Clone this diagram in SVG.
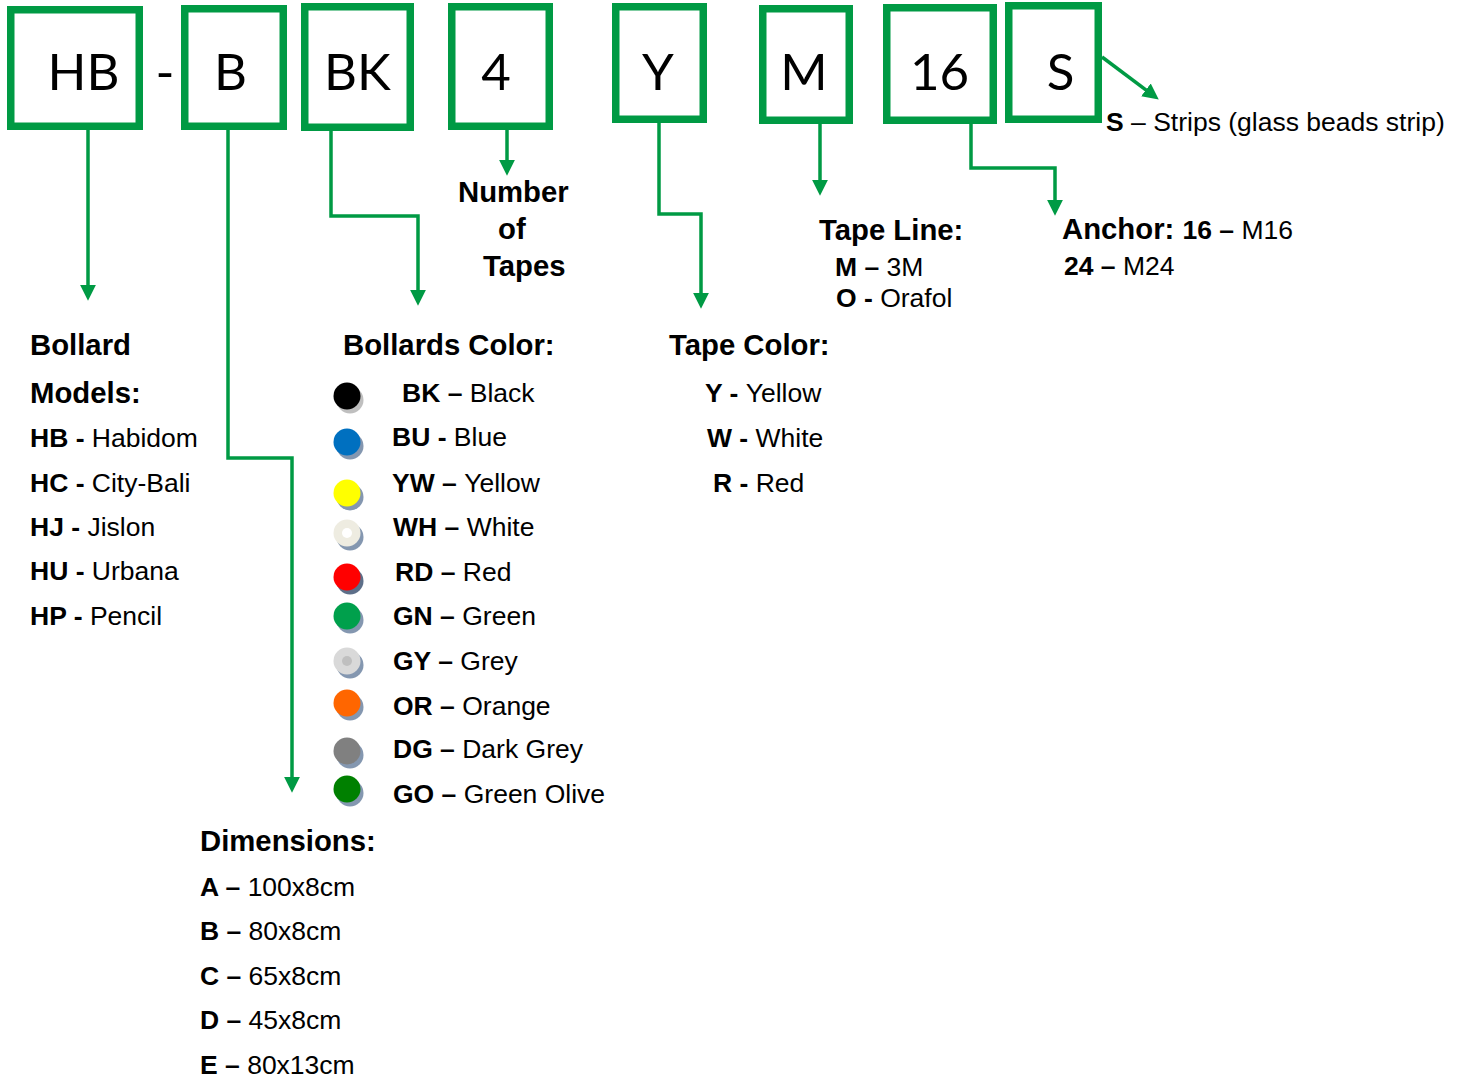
<svg xmlns="http://www.w3.org/2000/svg" width="1463" height="1078" viewBox="0 0 1463 1078">
<style>
.box{fill:#fff;stroke:#009A44;stroke-width:7.5}
.code{font-family:Lato,"Open Sans",sans-serif;font-size:51px;fill:#000;text-anchor:middle}
.con{fill:none;stroke:#009A44;stroke-width:3.5}
.h{font-family:"Liberation Sans",Arial,sans-serif;font-size:29.3px;font-weight:bold;fill:#000}
.t{font-family:"Liberation Sans",Arial,sans-serif;font-size:26.5px;fill:#000}
.b{font-weight:bold}
.sh{fill:#8497B0}
</style>
<defs>
<marker id="arr" markerUnits="userSpaceOnUse" markerWidth="16" markerHeight="16" viewBox="0 0 15 15" refX="3" refY="7.5" orient="auto">
<path d="M0,0 L15,7.5 L0,15 z" fill="#009A44"/>
</marker>
</defs>
<rect width="1463" height="1078" fill="#fff"/>

<g id="connectors">
<path class="con" d="M88,130 V288" marker-end="url(#arr)"/>
<path class="con" d="M228,130 V458 H292 V780" marker-end="url(#arr)"/>
<path class="con" d="M331,131 V216 H418 V293" marker-end="url(#arr)"/>
<path class="con" d="M507,130 V163" marker-end="url(#arr)"/>
<path class="con" d="M659,123 V214 H701 V296" marker-end="url(#arr)"/>
<path class="con" d="M820,124 V183" marker-end="url(#arr)"/>
<path class="con" d="M971,124 V168 H1055 V203" marker-end="url(#arr)"/>
<path class="con" d="M1102,57 L1148.5,91.8" marker-end="url(#arr)"/>
</g>

<g id="node-HB"><rect class="box" x="10.75" y="9.75" width="128.5" height="116.5"/><text class="code" x="83.5" y="90">HB</text></g>
<text id="dash" class="code" x="165" y="90">-</text>
<g id="node-B"><rect class="box" x="184.75" y="8.75" width="98.5" height="117.5"/><text class="code" x="230.5" y="90">B</text></g>
<g id="node-BK"><rect class="box" x="304.75" y="6.75" width="105.5" height="120.5"/><text class="code" x="357.5" y="90">BK</text></g>
<g id="node-4"><rect class="box" x="451.75" y="6.75" width="97.5" height="119.5"/><text class="code" x="496" y="90">4</text></g>
<g id="node-Y"><rect class="box" x="615.75" y="6.75" width="87.5" height="112.5"/><text class="code" x="658" y="90">Y</text></g>
<g id="node-M"><rect class="box" x="762.75" y="8.75" width="86.5" height="111.5"/><text class="code" x="804" y="90">M</text></g>
<g id="node-16"><rect class="box" x="886.75" y="7.75" width="106.5" height="112.5"/><text class="code" x="939.5" y="90">16</text></g>
<g id="node-S"><rect class="box" x="1008.75" y="5.75" width="89.5" height="113.5"/><text class="code" x="1060.5" y="90">S</text></g>

<g id="label-strips"><text class="t" x="1106" y="131"><tspan class="b">S</tspan> – Strips (glass beads strip)</text></g>

<g id="label-models">
<text class="h" x="30" y="355">Bollard</text>
<text class="h" x="30" y="403">Models:</text>
<text class="t" x="30" y="447"><tspan class="b">HB - </tspan>Habidom</text>
<text class="t" x="30" y="492"><tspan class="b">HC - </tspan>City-Bali</text>
<text class="t" x="30" y="536"><tspan class="b">HJ - </tspan>Jislon</text>
<text class="t" x="30" y="580"><tspan class="b">HU - </tspan>Urbana</text>
<text class="t" x="30" y="625"><tspan class="b">HP - </tspan>Pencil</text>
</g>

<g id="label-dimensions">
<text class="h" x="200" y="851">Dimensions:</text>
<text class="t" x="200" y="896"><tspan class="b">A – </tspan>100x8cm</text>
<text class="t" x="200" y="940"><tspan class="b">B – </tspan>80x8cm</text>
<text class="t" x="200" y="985"><tspan class="b">C – </tspan>65x8cm</text>
<text class="t" x="200" y="1029"><tspan class="b">D – </tspan>45x8cm</text>
<text class="t" x="200" y="1074"><tspan class="b">E – </tspan>80x13cm</text>
</g>

<g id="label-colors">
<text class="h" x="343" y="355">Bollards Color:</text>
<circle cx="350" cy="400" r="13.5" fill="#BFBFBF"/><circle cx="347" cy="396" r="13.5" fill="#000"/>
<circle class="sh" cx="350" cy="446" r="13.5"/><circle cx="347" cy="442" r="13.5" fill="#0070C0"/>
<circle class="sh" cx="350" cy="497" r="13.5"/><circle cx="347" cy="493" r="13.5" fill="#FFFF00"/>
<circle class="sh" cx="350" cy="537" r="13.5"/><circle cx="347" cy="533" r="13.5" fill="#EEECE1"/><circle cx="347" cy="533" r="5" fill="#fff"/>
<circle cx="350" cy="581" r="13.5" fill="#5D6F89"/><circle cx="347" cy="577" r="13.5" fill="#FF0000"/>
<circle class="sh" cx="350" cy="620" r="13.5"/><circle cx="347" cy="616" r="13.5" fill="#00A04C"/>
<circle class="sh" cx="350" cy="665" r="13.5"/><circle cx="347" cy="661" r="13.5" fill="#D9D9D9"/><circle cx="347" cy="661" r="5" fill="#BFBFBF"/>
<circle class="sh" cx="350" cy="707" r="13.5"/><circle cx="347" cy="703" r="13.5" fill="#FF6600"/>
<circle class="sh" cx="350" cy="755" r="13.5"/><circle cx="347" cy="751" r="13.5" fill="#808080"/>
<circle class="sh" cx="350" cy="793" r="13.5"/><circle cx="347" cy="789" r="13.5" fill="#008000"/>
<text class="t" x="402" y="402"><tspan class="b">BK – </tspan>Black</text>
<text class="t" x="392" y="446"><tspan class="b">BU - </tspan>Blue</text>
<text class="t" x="392" y="492"><tspan class="b">YW – </tspan>Yellow</text>
<text class="t" x="393" y="536"><tspan class="b">WH – </tspan>White</text>
<text class="t" x="395" y="581"><tspan class="b">RD – </tspan>Red</text>
<text class="t" x="393" y="625"><tspan class="b">GN – </tspan>Green</text>
<text class="t" x="393" y="670"><tspan class="b">GY – </tspan>Grey</text>
<text class="t" x="393" y="715"><tspan class="b">OR – </tspan>Orange</text>
<text class="t" x="393" y="758"><tspan class="b">DG – </tspan>Dark Grey</text>
<text class="t" x="393" y="803"><tspan class="b">GO – </tspan>Green Olive</text>
</g>

<g id="label-tapes">
<text class="h" x="458" y="202">Number</text>
<text class="h" x="498" y="239">of</text>
<text class="h" x="483" y="276">Tapes</text>
</g>

<g id="label-tape-color">
<text class="h" x="669" y="355">Tape Color:</text>
<text class="t" x="705" y="402"><tspan class="b">Y - </tspan>Yellow</text>
<text class="t" x="707" y="447"><tspan class="b">W - </tspan>White</text>
<text class="t" x="713" y="492"><tspan class="b">R - </tspan>Red</text>
</g>

<g id="label-tape-line">
<text class="h" x="819" y="240">Tape Line:</text>
<text class="t" x="835" y="276"><tspan class="b">M – </tspan>3M</text>
<text class="t" x="836" y="307"><tspan class="b">O - </tspan>Orafol</text>
</g>

<g id="label-anchor">
<text class="t" x="1062" y="239"><tspan class="b" font-size="29.3">Anchor: </tspan><tspan class="b">16 – </tspan>M16</text>
<text class="t" x="1064" y="275"><tspan class="b">24 – </tspan>M24</text>
</g>
</svg>
